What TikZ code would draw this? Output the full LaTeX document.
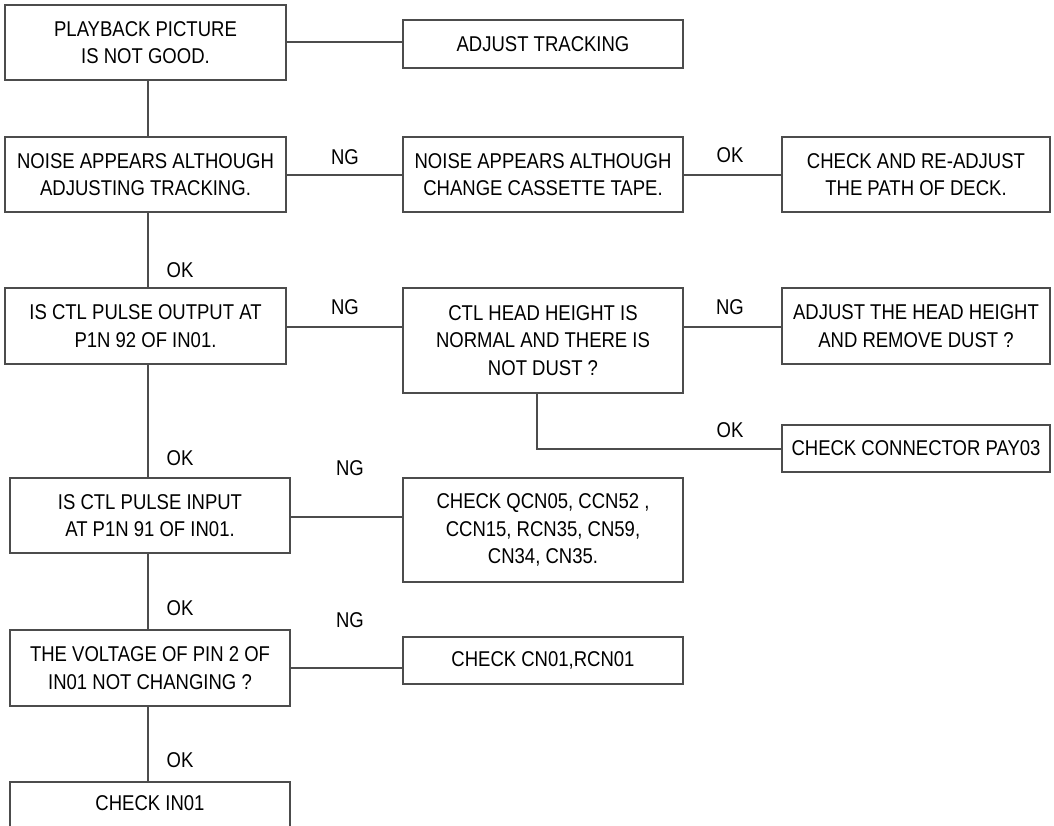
\documentclass[tikz,border=0pt]{standalone}
\usepackage{fontspec}
\setmainfont{Liberation Sans}[FakeStretch=0.865]
\begin{document}
\begin{tikzpicture}[x=1pt,y=-1pt,
  box/.style={draw=black!70,line width=1.1pt,rectangle,inner sep=0pt,align=center,
    font=\fontsize{21.4}{27.5}\selectfont},
  lbl/.style={font=\fontsize{21.4}{24}\selectfont,inner sep=0pt},
  conn/.style={draw=black!70,line width=1.1pt}]
\useasboundingbox (0,0) rectangle (1054,825);
\begin{scope}
\clip (0,0) rectangle (1054,825);
\node[box,minimum width=281pt,minimum height=75pt] (b1) at (145.5,42.5) {PLAYBACK PICTURE\\IS NOT GOOD.};
\node[box,minimum width=280pt,minimum height=48pt] (at) at (543,44) {ADJUST TRACKING};
\node[box,minimum width=281pt,minimum height=75pt] (b2) at (145.5,174.5) {NOISE APPEARS ALTHOUGH\\ADJUSTING TRACKING.};
\node[box,minimum width=280pt,minimum height=75pt] (cc) at (543,174.5) {NOISE APPEARS ALTHOUGH\\CHANGE CASSETTE TAPE.};
\node[box,minimum width=268pt,minimum height=75pt] (rd) at (916,174.5) {CHECK AND RE-ADJUST\\THE PATH OF DECK.};
\node[box,minimum width=281pt,minimum height=76pt] (b3) at (145.5,326) {IS CTL PULSE OUTPUT AT\\P1N 92 OF IN01.};
\node[box,minimum width=280pt,minimum height=105pt] (ch) at (543,340.5) {CTL HEAD HEIGHT IS\\NORMAL AND THERE IS\\NOT DUST ?};
\node[box,minimum width=268pt,minimum height=76pt] (ah) at (916,326) {ADJUST THE HEAD HEIGHT\\AND REMOVE DUST ?};
\node[box,minimum width=268pt,minimum height=47pt] (cp) at (916,448.5) {CHECK CONNECTOR PAY03};
\node[box,minimum width=280pt,minimum height=75pt] (b4) at (150,515.5) {IS CTL PULSE INPUT\\AT P1N 91 OF IN01.};
\node[box,minimum width=280pt,minimum height=104pt] (qc) at (543,530) {CHECK QCN05, CCN52 ,\\CCN15, RCN35, CN59,\\CN34, CN35.};
\node[box,minimum width=280pt,minimum height=76pt] (b5) at (150,668) {THE VOLTAGE OF PIN 2 OF\\IN01 NOT CHANGING ?};
\node[box,minimum width=280pt,minimum height=47pt] (cn) at (543,660.5) {CHECK CN01,RCN01};
\node[box,minimum width=280pt,minimum height=78pt] (b6) at (150,821) {};
\node[lbl] (b6t) at (150,803) {CHECK IN01};
\end{scope}
\coordinate (vx) at (148,0);
\coordinate (vy) at (537,0);
\coordinate (ly) at (0,449);
% horizontal connectors
\draw[conn] (b1.east |- 0,42) -- (at.west |- 0,42);
\draw[conn] (b2.east |- 0,175) -- (cc.west |- 0,175);
\draw[conn] (cc.east |- 0,175) -- (rd.west |- 0,175);
\draw[conn] (b3.east |- 0,327) -- (ch.west |- 0,327);
\draw[conn] (ch.east |- 0,327) -- (ah.west |- 0,327);
\draw[conn] (ch.south -| vy) |- (cp.west |- ly);
\draw[conn] (b4.east |- 0,517) -- (qc.west |- 0,517);
\draw[conn] (b5.east |- 0,668) -- (cn.west |- 0,668);
% vertical connectors
\draw[conn] (b1.south -| vx) -- (b2.north -| vx);
\draw[conn] (b2.south -| vx) -- (b3.north -| vx);
\draw[conn] (b3.south -| vx) -- (b4.north -| vx);
\draw[conn] (b4.south -| vx) -- (b5.north -| vx);
\draw[conn] (b5.south -| vx) -- (b6.north -| vx);
% labels
\node[lbl] (l1) at (345,157) {NG};
\node[lbl] (l2) at (730,155) {OK};
\node[lbl] (l3) at (180,270) {OK};
\node[lbl] (l4) at (345,307) {NG};
\node[lbl] (l5) at (730,307) {NG};
\node[lbl] (l6) at (730,430) {OK};
\node[lbl] (l7) at (180,458) {OK};
\node[lbl] (l8) at (350,468) {NG};
\node[lbl] (l9) at (180,608) {OK};
\node[lbl] (l10) at (350,620) {NG};
\node[lbl] (l11) at (180,760) {OK};
\end{tikzpicture}
\end{document}
